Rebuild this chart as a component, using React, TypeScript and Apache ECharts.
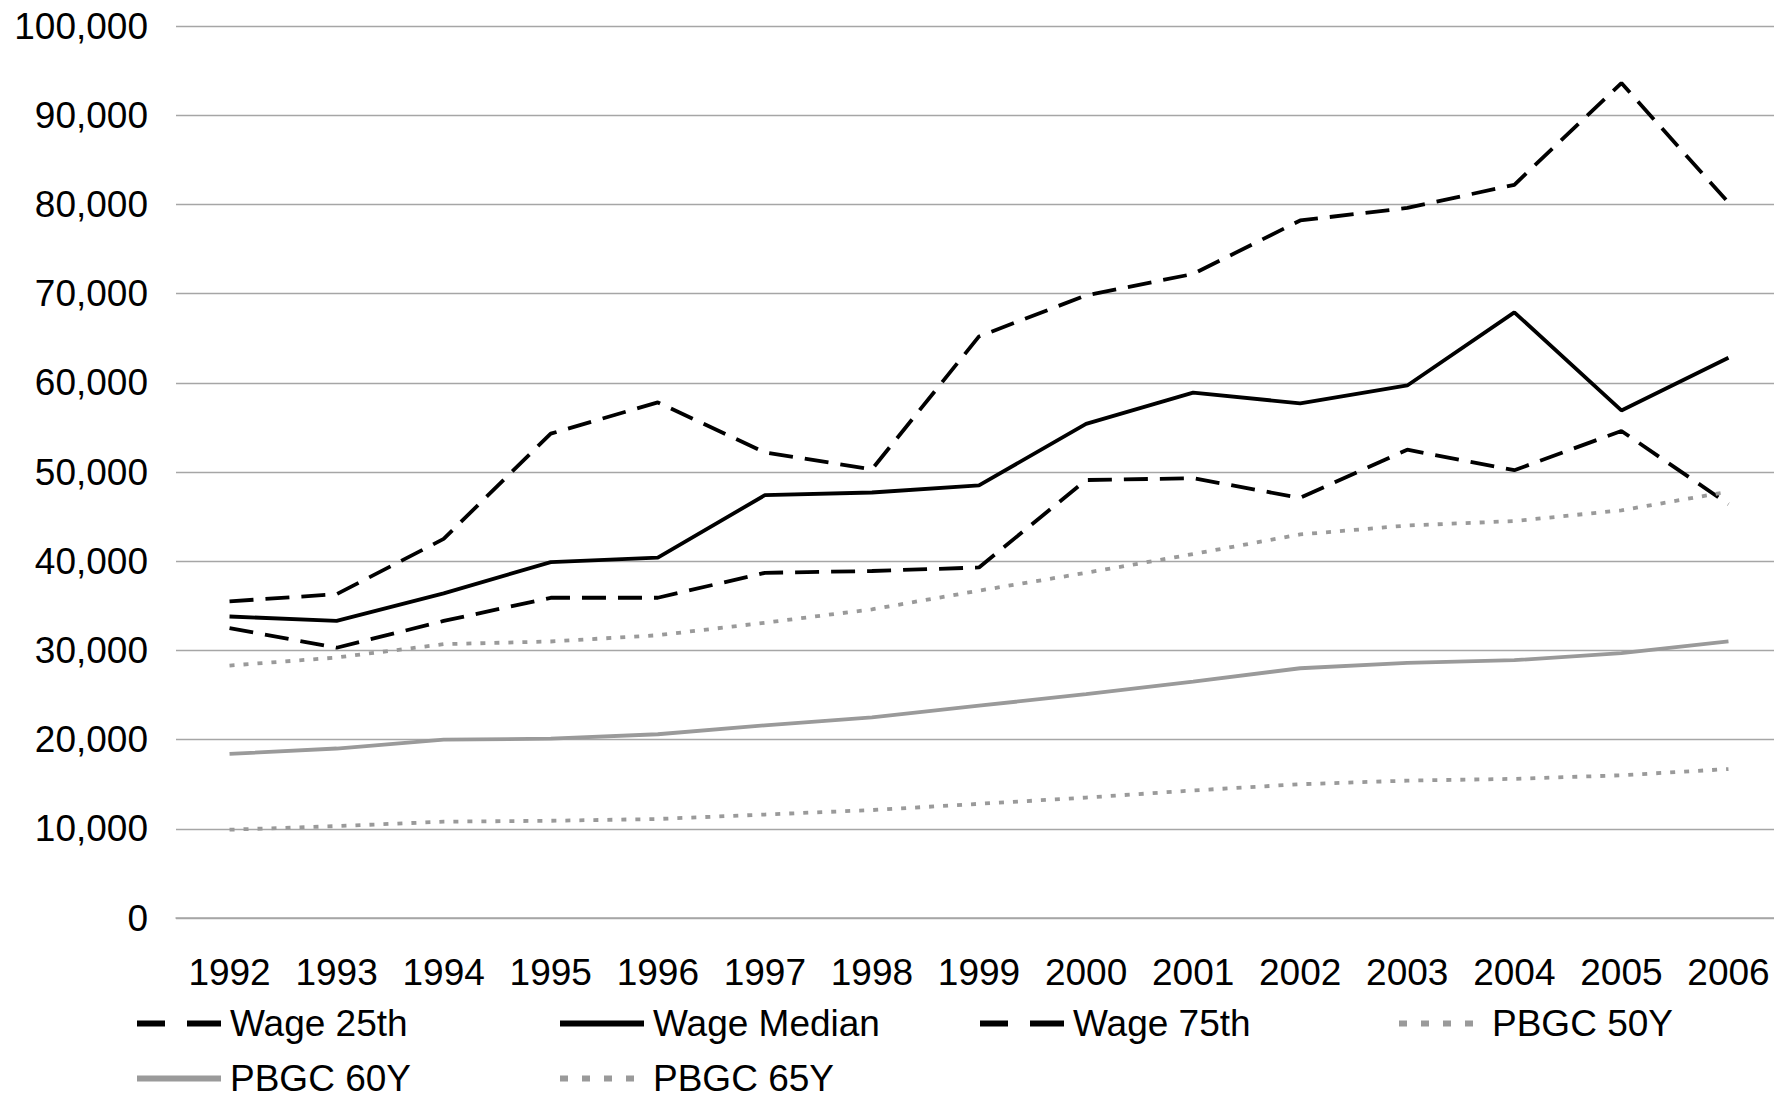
import React, { useEffect, useRef } from "react";
import * as echarts from "echarts";

const years = ["1992","1993","1994","1995","1996","1997","1998","1999","2000","2001","2002","2003","2004","2005","2006"];
const wage25 = [32500,30300,33300,35900,35900,38700,38900,39300,49100,49300,47100,52500,50200,54600,46400];
const wageMedian = [33800,33300,36400,39900,40400,47400,47700,48500,55400,58900,57700,59700,67900,56900,62800];
const wage75 = [35500,36300,42500,54300,57800,52200,50300,65200,69800,72200,78200,79600,82200,93600,80200];
const pbgc50 = [28300,29200,30700,31000,31700,33100,34600,36700,38700,40800,43000,44000,44500,45700,47800];
const pbgc60 = [18400,19000,20000,20100,20600,21600,22500,23800,25100,26500,28000,28600,28900,29700,31000];
const pbgc65 = [9900,10300,10800,10900,11100,11600,12100,12800,13500,14300,15000,15400,15600,16000,16700];

const FONT = "Liberation Sans, Arial, sans-serif";

export default function App() {
  const ref = useRef<HTMLDivElement>(null);
  useEffect(() => {
    const chart = echarts.init(ref.current!, null, { renderer: "svg" });
    const dash = [24, 12];
    const dot = [5, 9];
    const legDash = [28, 22, 34, 1];
    const legDot = [8, 14];
    const mk = (name: string, data: number[], color: string, type: any) => ({
      name, type: "line", data, symbol: "none", showSymbol: false,
      lineStyle: { color, width: 3.8, type, cap: "butt" }, itemStyle: { color },
    });
    const series = [
      mk("Wage 25th", wage25, "#000", dash),
      mk("Wage Median", wageMedian, "#000", "solid"),
      mk("Wage 75th", wage75, "#000", dash),
      mk("PBGC 50Y", pbgc50, "#9a9a9a", dot),
      mk("PBGC 60Y", pbgc60, "#9a9a9a", "solid"),
      mk("PBGC 65Y", pbgc65, "#9a9a9a", dot),
    ];
    const legTypes = [legDash, "solid", legDash, legDot, "solid", legDot];
    const pos = [[134, 1005], [557, 1005], [977, 1005], [1396, 1005], [134, 1060], [557, 1060]];
    const legends = series.map((s, i) => ({
      data: [s.name], left: pos[i][0], top: pos[i][1], itemWidth: 84, itemHeight: 14, itemGap: 0,
      padding: 0,
      itemStyle: { opacity: 0 },
      lineStyle: { width: 6, type: legTypes[i] },
      textStyle: { fontFamily: FONT, fontSize: 37, color: "#000", padding: [0, 0, 0, 4] },
    }));
    chart.setOption({
      animation: false,
      legend: legends,
      grid: { left: 176, right: 0, top: 26, bottom: 184 },
      xAxis: {
        type: "category", data: years, boundaryGap: true,
        axisLine: { lineStyle: { color: "#a6a6a6", width: 1.5 } },
        axisTick: { show: false },
        axisLabel: { fontFamily: FONT, fontSize: 37, color: "#000", margin: 36, interval: 0 },
      },
      yAxis: {
        type: "value", min: 0, max: 100000, interval: 10000,
        axisLabel: { fontFamily: FONT, fontSize: 37, color: "#000", margin: 28, formatter: (v: number) => v.toLocaleString("en-US") },
        splitLine: { lineStyle: { color: "#a6a6a6", width: 1.3 } },
        axisLine: { show: false }, axisTick: { show: false },
      },
      series,
    });
    return () => chart.dispose();
  }, []);
  return <div ref={ref} style={{ width: 1782, height: 1102, margin: -8, background: "#fff" }} />;
}
